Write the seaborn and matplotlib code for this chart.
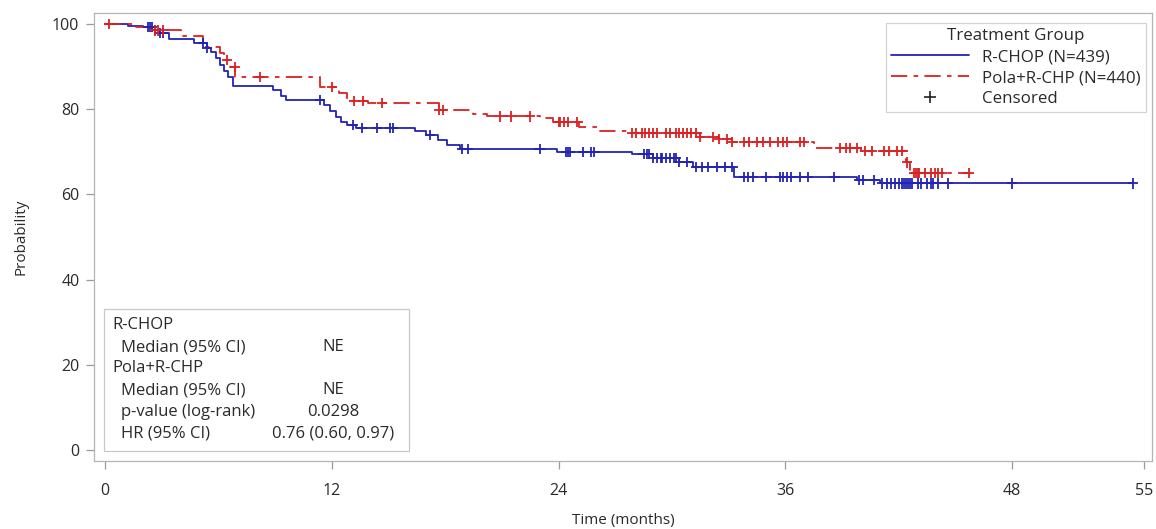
import numpy as np
import pandas as pd
import matplotlib
matplotlib.use("Agg")
import matplotlib.pyplot as plt
from matplotlib.lines import Line2D
from matplotlib.patches import Rectangle
import seaborn as sns

# Kaplan-Meier step points (months, survival %)
rchop_t = [0, 1.2, 2.0, 2.5, 2.9, 3.4, 4.7, 5.4, 5.6, 5.9, 6.1, 6.3, 6.5, 6.8,
           8.9, 9.3, 9.6, 11.6, 11.9, 12.2, 12.5, 12.8, 13.3, 16.4, 17.0,
           17.6, 18.1, 18.8, 23.9, 27.9, 29.0, 30.4, 31.1, 33.3, 39.8, 41.0]
rchop_s = [100, 99.6, 99.3, 98.6, 97.9, 96.5, 95.5, 94.4, 93.5, 92.0, 90.5,
           89.0, 87.5, 85.5, 84.5, 83.2, 82.2, 81.0, 79.6, 78.2, 77.0, 76.3,
           75.6, 74.8, 73.9, 72.7, 71.6, 70.7, 70.0, 69.5, 68.5, 67.6, 66.4,
           64.1, 63.4, 62.6]

pola_t = [0, 1.5, 2.5, 4.0, 5.2, 6.1, 6.3, 6.6, 6.9, 11.4, 12.4, 12.8, 13.9,
          17.7, 19.5, 20.2, 23.0, 23.7, 25.1, 26.2, 27.6, 31.5, 32.5, 33.2,
          37.5, 40.0, 42.4, 42.6]
pola_s = [100, 99.3, 98.5, 97.2, 94.6, 93.2, 91.5, 90.0, 87.5, 85.3, 83.8,
          81.9, 81.4, 79.8, 78.9, 78.3, 78.0, 77.0, 75.8, 75.0, 74.4, 73.5,
          73.0, 72.3, 70.9, 70.2, 67.5, 65.0]

# Censoring times (months)
rchop_cens = [2.28, 2.38, 2.49, 2.65, 2.91, 3.07, 5.19, 5.4, 11.38, 13.12,
              13.6, 14.39, 15.08, 15.24, 17.2, 18.89, 19.21, 23.0, 24.4, 24.5,
              24.6, 25.3, 25.7, 25.9, 28.5, 28.7, 28.8, 29.0, 29.2, 29.4,
              29.5, 29.7, 29.9, 30.1, 30.2, 30.4, 30.8, 31.3, 31.6, 31.9,
              32.4, 32.8, 33.2, 33.8, 34.0, 34.3, 35.0, 35.7, 35.9, 36.1,
              36.3, 36.8, 37.2, 38.6, 39.9, 40.1, 40.7, 41.1, 41.4, 41.6,
              41.8, 42.0, 42.2, 42.3, 42.4, 42.5, 42.6, 42.7, 43.0, 43.2,
              43.5, 43.7, 43.8, 44.1, 44.6, 48.0, 54.4]
pola_cens = [0.2, 2.65, 2.8, 3.07, 6.46, 6.88, 8.2, 12.0, 13.2, 13.65, 14.66,
             17.7, 17.9, 20.9, 21.5, 22.5, 24.0, 24.1, 24.3, 24.5, 25.0,
             27.9, 28.1, 28.4, 28.6, 28.8, 29.0, 29.2, 29.7, 29.9, 30.2,
             30.4, 30.6, 30.8, 31.0, 31.3, 31.5, 32.2, 32.5, 32.9, 33.2,
             33.8, 34.1, 34.5, 34.8, 35.2, 35.6, 35.9, 36.1, 36.8, 37.0,
             38.9, 39.2, 39.4, 39.8, 40.2, 40.6, 41.2, 41.5, 41.9, 42.2,
             42.45, 42.8, 42.9, 43.0, 43.1, 43.4, 43.7, 43.9, 44.1, 44.3, 45.7]

groups = ["R-CHOP (N=439)", "Pola+R-CHP (N=440)"]
x_ticks = [0, 12, 24, 36, 48, 55]
y_ticks = [0, 20, 40, 60, 80, 100]

stats_rows = [("R-CHOP", "", 0),
              ("Median (95% CI)", "NE", 1),
              ("Pola+R-CHP", "", 0),
              ("Median (95% CI)", "NE", 1),
              ("p-value (log-rank)", "0.0298", 1),
              ("HR (95% CI)", "0.76 (0.60, 0.97)", 1)]

BLUE = "#2323b4"
RED = "#dd2020"
TEXT = "#2a2a2a"


def step_value(t_events, s_events, t):
    idx = np.searchsorted(np.asarray(t_events), np.asarray(t), side="right") - 1
    return np.asarray(s_events)[idx]


def curve_frame(t_events, s_events, t_end, name):
    t = list(t_events) + [t_end]
    s = list(s_events) + [s_events[-1]]
    return pd.DataFrame({"time": t, "surv": s, "group": name})


curves = pd.concat([
    curve_frame(rchop_t, rchop_s, max(rchop_cens), groups[0]),
    curve_frame(pola_t, pola_s, max(pola_cens), groups[1]),
], ignore_index=True)

cens = pd.concat([
    pd.DataFrame({"time": rchop_cens,
                  "surv": step_value(rchop_t, rchop_s, rchop_cens),
                  "group": groups[0]}),
    pd.DataFrame({"time": pola_cens,
                  "surv": step_value(pola_t, pola_s, pola_cens),
                  "group": groups[1]}),
], ignore_index=True)

sns.set_theme(style="white")
plt.rcParams["font.family"] = ["Open Sans", "DejaVu Sans"]

fig = plt.figure(figsize=(11.56, 5.29), dpi=100)
ax = fig.add_axes([0.0813, 0.1285, 0.9152, 0.8469])

palette = {groups[0]: BLUE, groups[1]: RED}
dash_pola = (9, 3.5, 2.5, 3.5)
sns.lineplot(data=curves, x="time", y="surv", hue="group", style="group",
             palette=palette, dashes={groups[0]: "", groups[1]: dash_pola},
             drawstyle="steps-post", estimator=None, sort=False,
             linewidth=1.3, legend=False, ax=ax)
sns.scatterplot(data=cens, x="time", y="surv", hue="group", palette=palette,
                marker="+", s=55, linewidth=1.3, legend=False, ax=ax,
                zorder=3)

ax.set_xlim(-0.58, 55.4)
ax.set_ylim(-2.6, 102.6)
ax.set_xticks(x_ticks)
ax.set_yticks(y_ticks)
ax.tick_params(axis="both", which="major", bottom=True, left=True,
               direction="out", length=5.5, width=0.9, color="#9a9a9a",
               labelsize=11.5, labelcolor=TEXT)
ax.tick_params(axis="x", pad=10.5)
ax.tick_params(axis="y", pad=5)
for sp in ax.spines.values():
    sp.set_linewidth(0.9)
    sp.set_color("#b4b4b4")
ax.set_xlabel("Time (months)", fontsize=11, color=TEXT, labelpad=10)
ax.set_ylabel("Probability", fontsize=11, color=TEXT, labelpad=17)

# Legend
handles = [
    Line2D([], [], color=BLUE, lw=1.3),
    Line2D([], [], color=RED, lw=1.3, dashes=dash_pola),
    Line2D([], [], color="#222222", lw=0, marker="+", markersize=8,
           markeredgewidth=1.2),
]
labels = groups + ["Censored"]
leg = ax.legend(handles, labels, title="Treatment Group", loc="upper right",
                bbox_to_anchor=(0.9943, 0.978), borderaxespad=0,
                fontsize=12.2, title_fontsize=12.2, frameon=True,
                fancybox=False, handlelength=4.6, handletextpad=0.8,
                labelspacing=0.3, borderpad=0.3)
leg.get_frame().set_edgecolor("#c8c8c8")
leg.get_frame().set_linewidth(0.9)
for txt in leg.get_texts():
    txt.set_color(TEXT)
leg.get_title().set_color(TEXT)

# Statistics box
ax.add_patch(Rectangle((0.00945, 0.0223), 0.2882, 0.317, transform=ax.transAxes,
                       fill=False, edgecolor="#c8c8c8", linewidth=0.9,
                       zorder=4))
row_px = [325, 347, 368, 390, 412, 433]
for (label, value, indent), py in zip(stats_rows, row_px):
    yy = 1 - (py - 13) / 448
    ax.text(0.017 + 0.0085 * indent, yy, label, transform=ax.transAxes,
            fontsize=12, color=TEXT, va="center", ha="left")
    if value:
        ax.text(0.2262, yy, value, transform=ax.transAxes, fontsize=12,
                color=TEXT, va="center", ha="center")

fig.savefig("out.png", dpi=100)
